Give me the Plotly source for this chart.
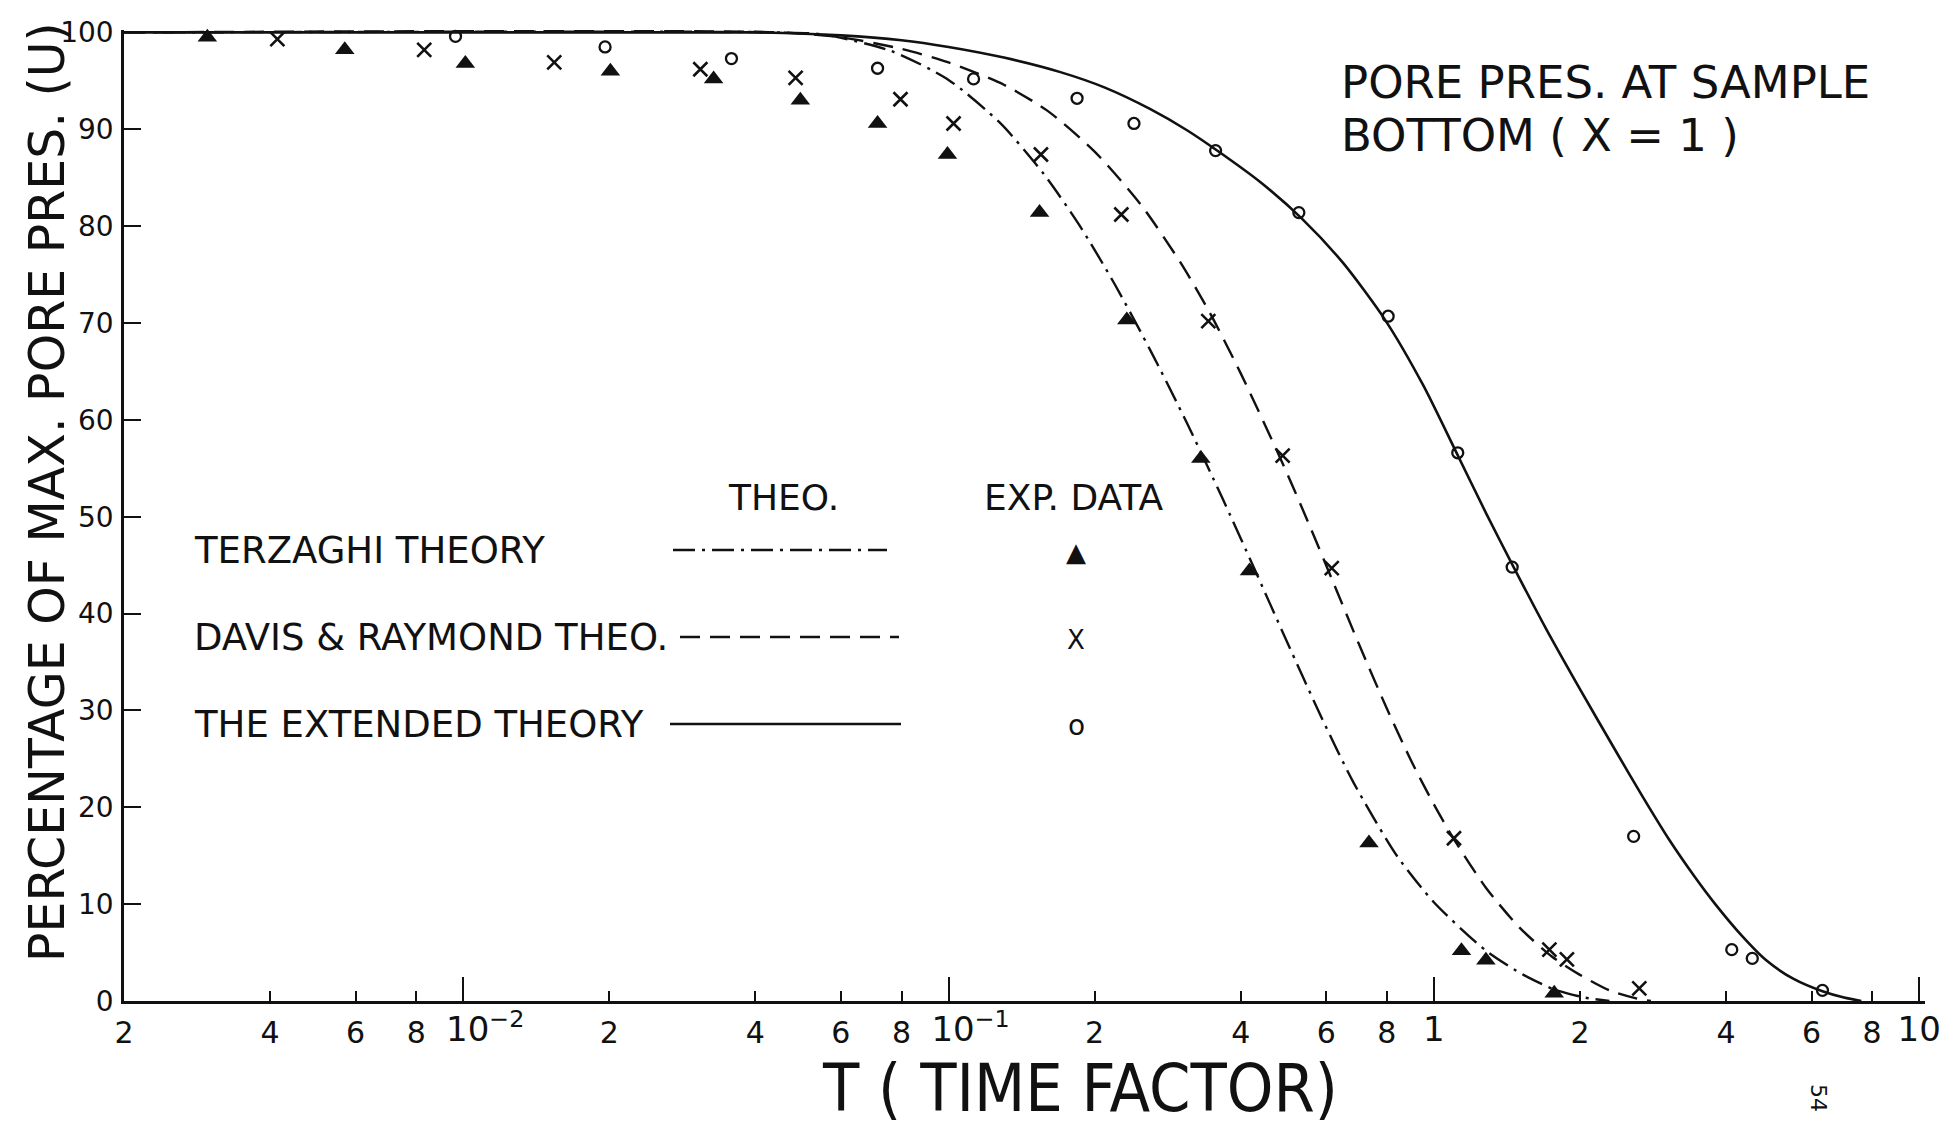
import plotly.graph_objects as go

# ---------------- data ----------------
# theoretical curves (T, U%)
terz_curve_T = [0.002, 0.045, 0.055, 0.076, 0.1, 0.128, 0.157, 0.186, 0.22, 0.261, 0.309, 0.366,
                0.427, 0.496, 0.589, 0.684, 0.839, 1.0, 1.28, 1.53, 1.77, 2.05, 2.3]
terz_curve_U = [100, 100, 99.8, 98.1, 95.1, 90.6, 85.4, 80.1, 74.0, 67.1, 59.8, 52.0,
                44.6, 37.3, 29.1, 22.5, 15.0, 10.2, 5.2, 2.7, 1.2, 0.35, 0]

davis_curve_T = [0.002, 0.045, 0.06, 0.08, 0.1, 0.13, 0.16, 0.2, 0.25, 0.3, 0.345, 0.4, 0.488,
                 0.55, 0.616, 0.7, 0.8, 0.9, 1.0, 1.1, 1.28, 1.5, 1.75, 2.0, 2.3, 2.6, 2.8]
davis_curve_U = [100, 100, 99.5, 98.3, 96.9, 94.6, 91.9, 87.7, 82.1, 76.3, 71.1, 64.8, 55.5,
                 49.5, 43.6, 36.9, 30.2, 24.7, 20.3, 16.7, 11.7, 7.6, 4.6, 2.7, 1.1, 0.3, 0]

ext_curve_T = [0.002, 0.04, 0.06, 0.08, 0.1, 0.13, 0.17, 0.21, 0.26, 0.31, 0.36, 0.44, 0.534,
               0.65, 0.794, 0.95, 1.106, 1.28, 1.46, 1.7, 2.0, 2.39, 2.7, 3.05, 3.45, 3.8,
               4.3, 4.84, 5.5, 6.32, 7.0, 7.6]
ext_curve_U = [100, 100, 99.7, 99.2, 98.5, 97.4, 95.9, 94.3, 92.1, 89.9, 87.7, 84.5, 80.8,
               76.2, 70.3, 63.6, 56.9, 50.4, 44.8, 38.5, 32.2, 25.5, 21.0, 16.7, 12.8, 10.0,
               6.8, 4.2, 2.3, 1.0, 0.35, 0]

# experimental data
terz_exp_T = [0.00297, 0.0057, 0.0101, 0.0201, 0.0328, 0.0495, 0.0714, 0.0995, 0.154, 0.233,
              0.331, 0.417, 0.735, 1.14, 1.28, 1.77]
terz_exp_U = [99.5, 98.2, 96.8, 96.0, 95.2, 93.0, 90.6, 87.4, 81.4, 70.3, 56.0, 44.4, 16.3, 5.2, 4.2, 0.8]

davis_exp_T = [0.00414, 0.00831, 0.0154, 0.0308, 0.0484, 0.0796, 0.1024, 0.155, 0.227, 0.343,
               0.488, 0.616, 1.10, 1.73, 1.88, 2.65]
davis_exp_U = [99.3, 98.2, 96.9, 96.2, 95.3, 93.1, 90.6, 87.4, 81.2, 70.2, 56.3, 44.7, 16.8, 5.3, 4.3, 1.3]

ext_exp_T = [0.00964, 0.0196, 0.0357, 0.0714, 0.1126, 0.184, 0.241, 0.355, 0.527, 0.805,
             1.12, 1.45, 2.58, 4.11, 4.53, 6.32]
ext_exp_U = [99.6, 98.5, 97.3, 96.3, 95.2, 93.2, 90.6, 87.8, 81.4, 70.7, 56.6, 44.8, 17.0, 5.3, 4.4, 1.1]

# axis ticks
y_ticks = [0, 10, 20, 30, 40, 50, 60, 70, 80, 90, 100]
y_labels = [str(v) for v in y_ticks]
minor_ticks = [0.002, 0.004, 0.006, 0.008, 0.02, 0.04, 0.06, 0.08,
               0.2, 0.4, 0.6, 0.8, 2, 4, 6, 8]
minor_labels = ["2", "4", "6", "8"] * 4
power_ticks = [0.01, 0.1]
power_labels = ["10<sup>\u22122</sup>", "10<sup>\u22121</sup>"]
unit_ticks = [1, 10]
unit_labels = ["1", "10"]

# ---------------- figure ----------------
W, H = 1956, 1130
ML, MR, MT, MB = 124, 31, 30, 129
PW, PH = W - ML - MR, H - MT - MB
BLACK = "#111111"
FONT = "DejaVu Sans"
TERZ_DASH = "22px,7px,3px,7px"
DAVIS_DASH = "20px,10px"


def px(X):
    return (X - ML) / PW


def py(Y):
    return (MT + PH - Y) / PH


fig = go.Figure()

fig.add_trace(go.Scatter(x=terz_curve_T, y=terz_curve_U, mode="lines",
                         line=dict(color=BLACK, width=2.4, dash=TERZ_DASH,
                                   shape="spline", smoothing=0.7),
                         name="Terzaghi theory"))
fig.add_trace(go.Scatter(x=davis_curve_T, y=davis_curve_U, mode="lines",
                         line=dict(color=BLACK, width=2.4, dash=DAVIS_DASH,
                                   shape="spline", smoothing=0.7),
                         name="Davis & Raymond theory"))
fig.add_trace(go.Scatter(x=ext_curve_T, y=ext_curve_U, mode="lines", xaxis="x2",
                         line=dict(color=BLACK, width=2.6, shape="spline", smoothing=0.7),
                         name="Extended theory"))

fig.add_trace(go.Scatter(x=terz_exp_T, y=terz_exp_U, mode="markers", cliponaxis=False,
                         marker=dict(symbol="triangle-up", size=17, color=BLACK),
                         name="Terzaghi exp."))
fig.add_trace(go.Scatter(x=davis_exp_T, y=davis_exp_U, mode="markers", cliponaxis=False,
                         xaxis="x3",
                         marker=dict(symbol="x-thin", size=14, color=BLACK,
                                     line=dict(width=2.6, color=BLACK)),
                         name="Davis exp."))
fig.add_trace(go.Scatter(x=ext_exp_T, y=ext_exp_U, mode="markers", cliponaxis=False,
                         marker=dict(symbol="circle-open", size=11, color=BLACK,
                                     line=dict(width=2.3, color=BLACK)),
                         name="Extended exp."))

xrange = [-2.699, 1.012]

annotations = []


def txt(text, X, Y, size, xanchor="left", angle=0, family=FONT, yanchor="middle"):
    annotations.append(dict(text=text, xref="paper", yref="paper", x=px(X), y=py(Y),
                            xanchor=xanchor, yanchor=yanchor, showarrow=False,
                            textangle=angle, font=dict(family=family, size=size, color=BLACK)))


txt("PERCENTAGE OF MAX. PORE PRES. (U)", 47, 492, 49, xanchor="center", angle=-90)
txt("T ( TIME FACTOR)", 1080, 1129, 66, xanchor="center", yanchor="bottom",
    family="DejaVu Sans Condensed, Liberation Sans Narrow, DejaVu Sans")
txt("PORE PRES. AT SAMPLE", 1339, 83, 45)
txt("BOTTOM ( X = 1 )", 1339, 135, 45)
txt("THEO.", 783, 498, 36, xanchor="center")
txt("EXP. DATA", 982, 498, 36)
txt("TERZAGHI THEORY", 192, 550, 37)
txt("DAVIS & RAYMOND THEO.", 192, 637, 37)
txt("THE EXTENDED THEORY", 192, 724, 37)
txt("\u25B2", 1076, 552, 26, xanchor="center")
txt("X", 1076, 640, 26, xanchor="center")
txt("o", 1076, 725, 28, xanchor="center")
txt("54", 1819, 1098, 22, xanchor="center", angle=90)

shapes = [
    dict(type="line", xref="paper", yref="paper", x0=px(673), x1=px(887), y0=py(550), y1=py(550),
         line=dict(color=BLACK, width=2.4, dash=TERZ_DASH)),
    dict(type="line", xref="paper", yref="paper", x0=px(680), x1=px(899), y0=py(637), y1=py(637),
         line=dict(color=BLACK, width=2.4, dash=DAVIS_DASH)),
    dict(type="line", xref="paper", yref="paper", x0=px(670), x1=px(901), y0=py(724), y1=py(724),
         line=dict(color=BLACK, width=2.6)),
]

decade_axis = dict(type="log", range=xrange, overlaying="x", anchor="y", side="bottom",
                   showgrid=False, zeroline=False, showline=False, tickmode="array",
                   ticks="inside", ticklen=24, tickwidth=2.2, tickcolor=BLACK,
                   tickfont=dict(family=FONT, size=34, color=BLACK), ticklabelstandoff=5)

fig.update_layout(
    width=W, height=H,
    margin=dict(l=ML, r=MR, t=MT, b=MB),
    paper_bgcolor="white", plot_bgcolor="white",
    showlegend=False,
    font=dict(family=FONT, color=BLACK),
    annotations=annotations,
    shapes=shapes,
    xaxis=dict(type="log", range=xrange, showgrid=False, zeroline=False,
               showline=True, linecolor=BLACK, linewidth=2.6,
               tickmode="array", tickvals=minor_ticks, ticktext=minor_labels,
               ticks="inside", ticklen=10, tickwidth=2.2, tickcolor=BLACK,
               tickfont=dict(family=FONT, size=30, color=BLACK),
               ticklabelstandoff=3),
    xaxis2=dict(decade_axis, tickvals=power_ticks, ticktext=power_labels, ticklabelshift=22),
    xaxis3=dict(decade_axis, tickvals=unit_ticks, ticktext=unit_labels),
    yaxis=dict(range=[0, 100.25], showgrid=False, zeroline=False,
               showline=True, linecolor=BLACK, linewidth=2.6,
               tickmode="array", tickvals=y_ticks, ticktext=y_labels,
               ticks="inside", ticklen=17, tickwidth=2.2, tickcolor=BLACK,
               tickfont=dict(family=FONT, size=28, color=BLACK),
               ticklabelstandoff=2),
)

fig.write_html("out.html")
